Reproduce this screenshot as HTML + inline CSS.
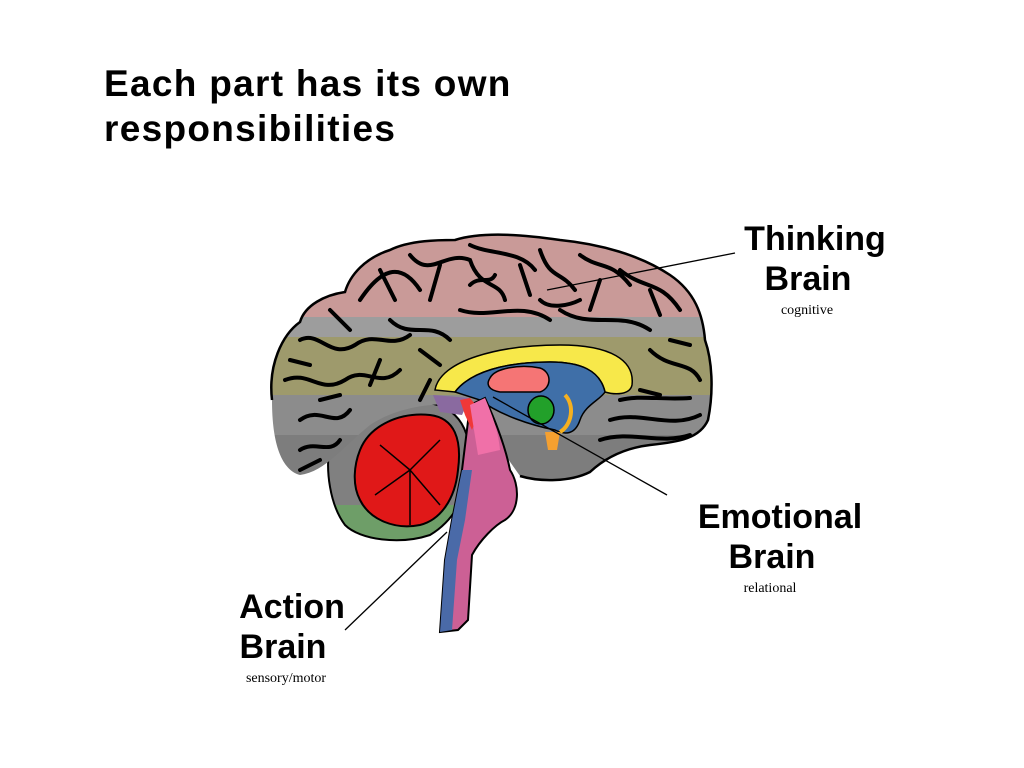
<!DOCTYPE html>
<html><head><meta charset="utf-8"><style>
html,body{margin:0;padding:0;background:#fff;}
body{width:1024px;height:768px;position:relative;overflow:hidden;font-family:"Liberation Sans",sans-serif;}
.t{position:absolute;left:104px;top:61px;font-size:37px;font-weight:bold;line-height:45px;color:#000;letter-spacing:1.3px;}
</style></head><body>
<div class="t">Each part has its own<br>responsibilities</div>
<svg width="1024" height="768" style="position:absolute;left:0;top:0">
<defs>
<clipPath id="cb"><path d="M272,400 C268,365 282,335 300,322 C305,305 325,295 345,292 C350,275 365,258 390,250 C410,240 440,240 455,240 C480,232 520,234 560,240 C600,244 640,255 670,275 C695,292 703,315 705,340 C712,360 714,390 708,420 C700,438 680,442 650,445 C625,448 605,458 590,472 C570,482 540,482 520,476 L470,405 C440,402 400,405 370,425 C345,445 325,472 300,475 C282,470 272,445 272,400 Z"/></clipPath>
<clipPath id="cc"><path d="M330,445 C340,420 370,405 410,402 C450,400 470,420 470,460 C468,495 455,520 430,535 C400,545 360,540 345,525 C330,505 325,470 330,445 Z"/></clipPath>
</defs>
<g clip-path="url(#cc)">
<rect x="300" y="390" width="200" height="115" fill="#808080"/>
<rect x="300" y="505" width="200" height="60" fill="#6e9e68"/>
</g>
<path d="M330,445 C340,420 370,405 410,402 C450,400 470,420 470,460 C468,495 455,520 430,535 C400,545 360,540 345,525 C330,505 325,470 330,445 Z" fill="none" stroke="#000" stroke-width="2"/>
<g clip-path="url(#cb)">
<rect x="260" y="225" width="470" height="92" fill="#c99a98"/>
<rect x="260" y="317" width="470" height="20" fill="#9d9d9d"/>
<rect x="260" y="337" width="470" height="58" fill="#9e9a6c"/>
<rect x="260" y="395" width="470" height="40" fill="#8c8c8c"/>
<rect x="260" y="435" width="470" height="60" fill="#7d7d7d"/>
<g fill="none" stroke="#000" stroke-width="4" stroke-linecap="round">
<path d="M360,300 C380,270 400,260 420,290 M410,255 C430,280 445,250 470,260 C480,290 500,280 505,300 M470,245 C490,255 520,250 535,270 M540,250 C550,280 560,270 575,290 M580,255 C600,270 610,260 630,285 M620,270 C645,290 660,280 680,310"/>
<path d="M300,340 C320,330 330,360 355,345 C375,330 390,350 410,335 M285,380 C310,370 320,395 345,380 C365,365 380,390 400,370 M300,420 C320,405 335,430 350,410 M390,320 C410,340 430,320 450,340 M460,310 C490,320 520,300 550,320 M560,310 C590,330 620,310 650,330 M650,350 C670,370 690,360 700,380 M610,420 C640,410 670,430 700,415 M600,440 C630,430 660,445 690,435 M300,450 C315,440 330,455 340,440"/>
<path d="M380,270 L395,300 M440,265 L430,300 M520,265 L530,295 M600,280 L590,310 M650,290 L660,315 M330,310 L350,330 M420,350 L440,365 M380,360 L370,385 M320,400 L340,395 M290,360 L310,365 M670,340 L690,345 M640,390 L660,395 M620,400 C640,395 660,400 690,398 M300,470 L320,460 M430,380 L420,400 M540,300 C550,310 570,305 580,300 M470,285 C480,275 490,285 495,275"/>
</g>
</g>
<path d="M272,400 C268,365 282,335 300,322 C305,305 325,295 345,292 C350,275 365,258 390,250 C410,240 440,240 455,240 C480,232 520,234 560,240 C600,244 640,255 670,275 C695,292 703,315 705,340 C712,360 714,390 708,420 C700,438 680,442 650,445 C625,448 605,458 590,472 C570,482 540,482 520,476" fill="none" stroke="#000" stroke-width="2.5"/>
<path d="M435,390 C440,360 500,345 560,345 C610,345 635,360 632,385 C630,395 615,395 605,392 C600,370 580,362 550,362 C505,362 470,372 455,392 Z" fill="#f7e84a" stroke="#000" stroke-width="1.5"/>
<path d="M455,392 C470,372 505,362 550,362 C580,362 600,370 605,392 C600,400 585,405 580,420 C575,435 565,435 555,430 C530,425 500,415 480,400 Z" fill="#3f6fa8" stroke="#000" stroke-width="1.5"/>
<path d="M490,378 C495,368 520,364 540,368 C552,372 552,388 540,392 L500,392 C488,390 486,384 490,378 Z" fill="#f57575" stroke="#000" stroke-width="1.5"/>
<ellipse cx="541" cy="410" rx="13" ry="14" fill="#22a02a" stroke="#000" stroke-width="1.5"/>
<path d="M545,432 L560,432 L557,450 L548,450 Z" fill="#f5a030"/>
<path d="M565,395 C575,405 572,425 560,432" stroke="#f5b020" stroke-width="4" fill="none"/>
<path d="M433,395 L470,398 L462,415 L440,412 Z" fill="#8a6aa0"/>
<path d="M360,450 C370,425 400,412 430,415 C455,418 462,440 458,470 C455,500 440,520 420,525 C395,530 370,520 360,500 C352,485 354,465 360,450 Z" fill="#e01818" stroke="#000" stroke-width="2"/>
<g stroke="#000" stroke-width="1.5"><path d="M410,470 L380,445 M410,470 L440,440 M410,470 L375,495 M410,470 L440,505 M410,470 L410,525"/></g>
<path d="M470,405 L485,398 C495,420 505,445 510,470 C520,485 520,510 505,520 C495,525 480,540 472,555 L468,620 L458,630 L440,632 L445,560 L452,520 L462,470 Z" fill="#cc6095" stroke="#000" stroke-width="2"/>
<path d="M462,470 L452,520 L445,560 L440,632 L452,630 L457,560 L465,520 L472,470 Z" fill="#4a6aa8"/>
<path d="M460,400 L470,398 L480,410 L472,430 L465,415 Z" fill="#f03838"/>
<path d="M470,405 L485,398 C492,415 498,430 500,450 L478,455 Z" fill="#f070a8"/>
<g stroke="#000" stroke-width="1.3" fill="none">
<line x1="735" y1="253" x2="547" y2="290"/>
<line x1="493" y1="397" x2="667" y2="495"/>
<line x1="345" y1="630" x2="447" y2="532"/>
</g>
<g font-family="Liberation Sans, sans-serif" font-weight="bold" font-size="34" fill="#000" text-anchor="middle">
<text x="815" y="250">Thinking</text>
<text x="808" y="290">Brain</text>
<text x="780" y="528">Emotional</text>
<text x="772" y="568">Brain</text>
<text x="292" y="618">Action</text>
<text x="283" y="658">Brain</text>
</g>
<g font-family="Liberation Serif, serif" font-size="14" fill="#000" text-anchor="middle">
<text x="807" y="314">cognitive</text>
<text x="770" y="592">relational</text>
<text x="286" y="682">sensory/motor</text>
</g>
</svg>
</body></html>
